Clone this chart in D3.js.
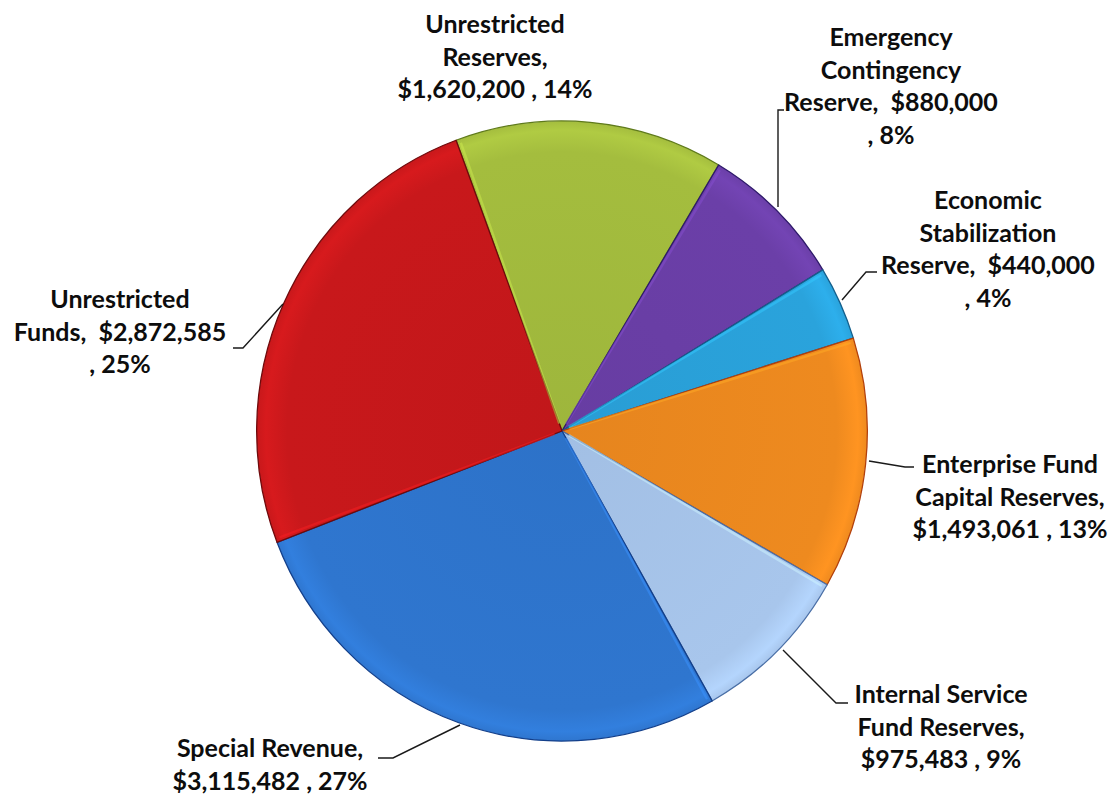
<!DOCTYPE html>
<html>
<head>
<meta charset="utf-8">
<script src="https://cdn.jsdelivr.net/npm/d3@7/dist/d3.min.js"></script>
<style>
  html, body { margin: 0; padding: 0; background: #ffffff; }
  svg { display: block; }
  text { font-family: Lato, "Open Sans", sans-serif; font-weight: 700; fill: #0d0d0d; }
</style>
</head>
<body>
<svg id="chart" width="1111" height="803"></svg>
<script>
// Fund reserve categories, in clockwise order starting at the top
const categories = [
  "Unrestricted Reserves",
  "Emergency Contingency Reserve",
  "Economic Stabilization Reserve",
  "Enterprise Fund Capital Reserves",
  "Internal Service Fund Reserves",
  "Special Revenue",
  "Unrestricted Funds"
];
const amounts = [1620200, 880000, 440000, 1493061, 975483, 3115482, 2872585];
const percentLabels = ["14%", "8%", "4%", "13%", "9%", "27%", "25%"];

// label lines as they wrap in each callout
const labelLines = [
  ["Unrestricted", "Reserves,", "$1,620,200 , 14%"],
  ["Emergency", "Contingency", "Reserve,  $880,000", ", 8%"],
  ["Economic", "Stabilization", "Reserve,  $440,000", ", 4%"],
  ["Enterprise Fund", "Capital Reserves,", "$1,493,061 , 13%"],
  ["Internal Service", "Fund Reserves,", "$975,483 , 9%"],
  ["Special Revenue,", "$3,115,482 , 27%"],
  ["Unrestricted", "Funds,  $2,872,585", ", 25%"]
];

const sliceColors = ["#a4bd3e", "#6b3fa8", "#2aa3dc", "#ee8a1f", "#a8c6ec", "#2f76cf", "#c8181b"];
const edgeColors  = ["#5f7a1c", "#2e1a6a", "#145f8c", "#b2400c", "#4a6fa6", "#133f8a", "#6e0a0c"];

// label block anchors: centre x, first baseline y
const labelPos = [
  [495, 33], [891, 46], [988, 209], [1010, 473], [941, 703], [270, 757], [120, 308]
];
// leader lines (slice edge -> elbow -> label)
const leaders = [
  null,
  [[778, 207], [778, 110], [784, 110]],
  [[842, 300], [866, 272], [877, 272]],
  [[869, 461], [905, 467], [914, 467]],
  [[783, 650], [836, 703], [848, 703]],
  [[460, 725], [393, 758], [378, 758]],
  [[283, 304], [243, 348], [233, 348]]
];

const cx = 562, cy = 431, R = 310, sx = 0.985;
const startAngle = -20.3 * Math.PI / 180;

const svg = d3.select("#chart");
const defs = svg.append("defs");

sliceColors.forEach((c, i) => {
  const g = defs.append("radialGradient")
    .attr("id", "grad" + i)
    .attr("gradientUnits", "userSpaceOnUse")
    .attr("cx", 0).attr("cy", 0).attr("r", R);
  g.append("stop").attr("offset", "0%").attr("stop-color", d3.color(c).darker(0.1));
  g.append("stop").attr("offset", "90%").attr("stop-color", c);
  g.append("stop").attr("offset", "97%").attr("stop-color", d3.color(c).brighter(0.2));
  g.append("stop").attr("offset", "100%").attr("stop-color", c);
});

const pie = d3.pie().sort(null).value(d => d)
  .startAngle(startAngle).endAngle(startAngle + 2 * Math.PI);
const arcs = pie(amounts);

const arc = d3.arc().innerRadius(0).outerRadius(R);

const g = svg.append("g").attr("transform", `translate(${cx},${cy}) scale(${sx},1)`);

g.selectAll("path.slice")
  .data(arcs)
  .join("path")
  .attr("class", "slice")
  .attr("d", arc)
  .attr("fill", (d, i) => `url(#grad${i})`)
  .attr("stroke", (d, i) => edgeColors[i])
  .attr("stroke-width", 1.3)
  .attr("stroke-linejoin", "round");

// soft bevel highlight along the leading edge of each slice
g.selectAll("path.bevel")
  .data(arcs)
  .join("path")
  .attr("class", "bevel")
  .attr("d", d => {
    const a = d.startAngle + 0.012;
    const r0 = 8, r1 = R - 4;
    return `M${Math.sin(a) * r0},${-Math.cos(a) * r0}L${Math.sin(a) * r1},${-Math.cos(a) * r1}`;
  })
  .attr("stroke", (d, i) => d3.color(sliceColors[i]).brighter(0.6))
  .attr("stroke-opacity", 0.5)
  .attr("stroke-width", 2.5)
  .attr("fill", "none");

// leader lines
svg.selectAll("path.leader")
  .data(leaders.filter(d => d))
  .join("path")
  .attr("class", "leader")
  .attr("d", d => d3.line()(d))
  .attr("fill", "none")
  .attr("stroke", "#1a1a1a")
  .attr("stroke-width", 1.4);

// callout labels
const lineH = 32.5;
labelLines.forEach((lines, i) => {
  const [x, y] = labelPos[i];
  const t = svg.append("text")
    .attr("text-anchor", "middle")
    .attr("font-size", 25)
    .attr("xml:space", "preserve")
    .style("white-space", "pre");
  lines.forEach((ln, k) => {
    t.append("tspan").attr("x", x).attr("y", y + k * lineH).text(ln);
  });
});
</script>
</body>
</html>
